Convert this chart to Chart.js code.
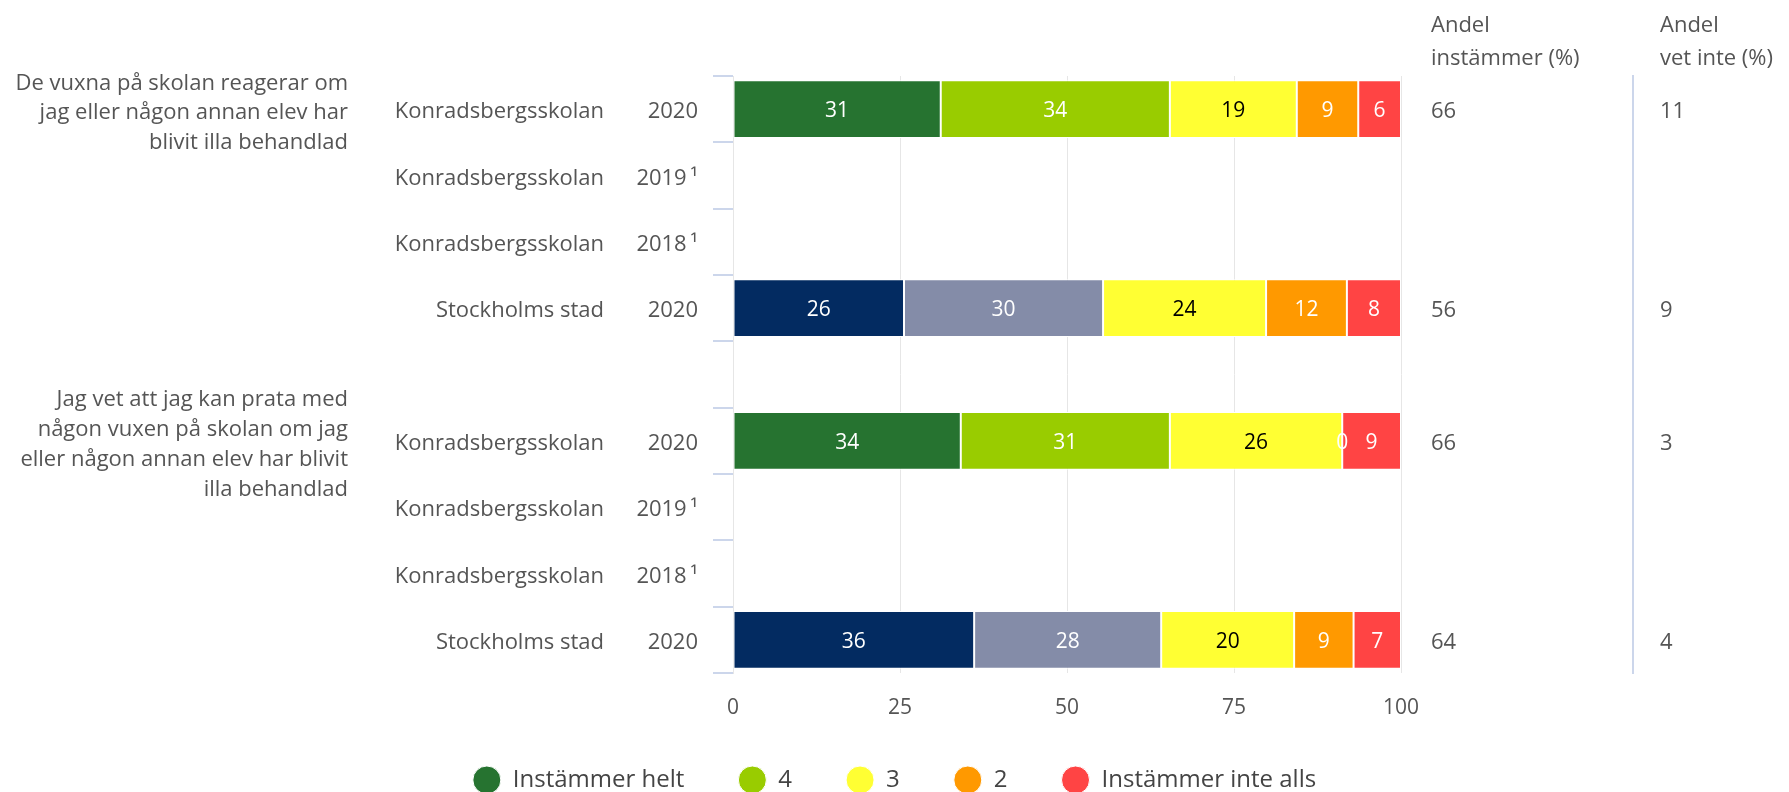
<!DOCTYPE html>
<html>
<head>
<meta charset="utf-8">
<script src="https://cdn.jsdelivr.net/npm/chart.js@4.4.0/dist/chart.umd.min.js"></script>
<style>
html,body{margin:0;padding:0;background:#fff;overflow:hidden;}
#wrap{width:1789px;height:802px;}
</style>
</head>
<body>
<div id="wrap"><canvas id="grafico" width="1789" height="802"></canvas></div>
<script>
const fragor = [
    ["De vuxna på skolan reagerar om", "jag eller någon annan elev har", "blivit illa behandlad"],
    ["Jag vet att jag kan prata med", "någon vuxen på skolan om jag", "eller någon annan elev har blivit", "illa behandlad"]
];
const fragaEtiketter = [fragor[0], "", "", "", "", fragor[1], "", "", ""];
const skolor = ["Konradsbergsskolan","Konradsbergsskolan","Konradsbergsskolan","Stockholms stad","",
                "Konradsbergsskolan","Konradsbergsskolan","Konradsbergsskolan","Stockholms stad"];
const ar = ["2020","2019\u2009¹","2018\u2009¹","2020","","2020","2019\u2009¹","2018\u2009¹","2020"];

const serier = ["Instämmer helt","4","3","2","Instämmer inte alls"];
const helt     = [31.1,null,null,25.6,null,34.1,null,null,36.1];
const fyra     = [34.3,null,null,29.8,null,31.3,null,null,28.0];
const tre      = [19.0,null,null,24.4,null,25.8,null,null,19.9];
const tva      = [9.2,null,null,12.1,null,0,null,null,8.9];
const inteAlls = [6.4,null,null,8.1,null,8.8,null,null,7.1];

const andelInstammer = ["66","","","56","","66","","","64"];
const andelVetInte   = ["11","","","9","","3","","","4"];
const xTicks = [0,25,50,75,100];

const FONT = '"Open Sans", sans-serif';
const GRIS = '#555555';

// skolan grön, staden blå
function farg(skola, stad){
    return skolor.map(s => s === "Stockholms stad" ? stad : skola);
}

// siffror inne i staplarna
const etiketter = {
    id: 'etiketter',
    afterDatasetsDraw(chart){
        const ctx = chart.ctx;
        ctx.save();
        ctx.font = '21px ' + FONT;
        ctx.textAlign = 'center';
        ctx.textBaseline = 'middle';
        chart.data.datasets.forEach((ds, i) => {
            const meta = chart.getDatasetMeta(i);
            meta.data.forEach((bar, j) => {
                const v = ds.data[j];
                if (v === null) return;
                const p = bar.getCenterPoint();
                ctx.fillStyle = i === 2 ? '#000' : '#fff';
                ctx.fillText(Math.round(v), p.x, p.y + 2);
            });
        });
        ctx.restore();
    }
};

// rubriker ovanför högra kolumnerna
const rubriker = {
    id: 'rubriker',
    afterDraw(chart){
        const ctx = chart.ctx;
        const a = chart.scales.andel, b = chart.scales.vetinte;
        ctx.save();
        ctx.font = '22px ' + FONT;
        ctx.fillStyle = GRIS;
        ctx.textAlign = 'left';
        ctx.textBaseline = 'middle';
        ctx.fillText('Andel', a.left + 30, 26);
        ctx.fillText('instämmer (%)', a.left + 30, 59);
        ctx.fillText('Andel', b.left + 27, 26);
        ctx.fillText('vet inte (%)', b.left + 27, 59);
        ctx.restore();
    }
};

function kategoriAxel(etik, pos, vikt, bredd, pad, extra){
    return Object.assign({
        type: 'category',
        labels: etik,
        position: pos,
        weight: vikt,
        offset: true,
        grid: {display: false, drawTicks: false},
        border: {display: false},
        ticks: {autoSkip: false, padding: pad, labelOffset: 3, color: GRIS, font: {family: FONT, size: 22}},
        afterFit: s => { s.width = bredd; }
    }, extra || {});
}

const ctx = document.getElementById('grafico').getContext('2d');
const grafico = new Chart(ctx, {
    type: 'bar',
    data: {
        labels: ar,
        datasets: [
            {label: serier[0], data: helt, backgroundColor: farg('#267330', '#032b61')},
            {label: serier[1], data: fyra, backgroundColor: farg('#99cc00', '#848ca8')},
            {label: serier[2], data: tre, backgroundColor: '#ffff33'},
            {label: serier[3], data: tva, backgroundColor: '#ff9900'},
            {label: serier[4], data: inteAlls, backgroundColor: '#ff4444'}
        ]
    },
    options: {
        indexAxis: 'y',
        responsive: false,
        animation: false,
        devicePixelRatio: 1,
        layout: {padding: {top: 76, left: 0, right: 0, bottom: 0}},
        datasets: {
            bar: {
                categoryPercentage: 1,
                barPercentage: 0.87,
                borderWidth: 1,
                borderColor: '#ffffff',
                borderSkipped: false
            }
        },
        scales: {
            x: {
                stacked: true,
                min: 0,
                max: 100,
                position: 'bottom',
                afterBuildTicks: s => { s.ticks = xTicks.map(v => ({value: v})); },
                grid: {color: '#e6e6e6', drawTicks: false},
                border: {display: false},
                ticks: {padding: 22, color: GRIS, font: {family: FONT, size: 21}},
                afterFit: s => { s.height = 41; }
            },
            y: {
                type: 'category',
                labels: ar,
                stacked: true,
                position: 'left',
                weight: 0,
                offset: true,
                grid: {offset: true, drawOnChartArea: false, color: '#ccd6eb', tickLength: 20, lineWidth: 2},
                border: {display: true, color: '#e6e6e6'},
                ticks: {autoSkip: false, padding: 15, labelOffset: 3, color: GRIS, font: {family: FONT, size: 22}},
                afterFit: s => { s.width = 100; }
            },
            skola: kategoriAxel(skolor, 'left', 1, 260, 29),
            fraga: kategoriAxel(fragaEtiketter, 'left', 2, 373, 25,
                {ticks: {autoSkip: false, padding: 25, labelOffset: 4, color: GRIS, font: {family: FONT, size: 22, lineHeight: 1.36}}}),
            andel: kategoriAxel(andelInstammer, 'right', 0, 232, 30),
            vetinte: kategoriAxel(andelVetInte, 'right', 1, 156, 27, {border: {display: true, color: '#ccd6eb', width: 2}})
        },
        plugins: {
            tooltip: {enabled: false},
            legend: {
                position: 'bottom',
                labels: {
                    usePointStyle: true,
                    pointStyle: 'circle',
                    pointStyleWidth: 28,
                    boxHeight: 19.8,
                    padding: 54,
                    color: '#444',
                    font: {family: FONT, size: 24}
                }
            }
        }
    },
    plugins: [etiketter, rubriker]
});
</script>
</body>
</html>
